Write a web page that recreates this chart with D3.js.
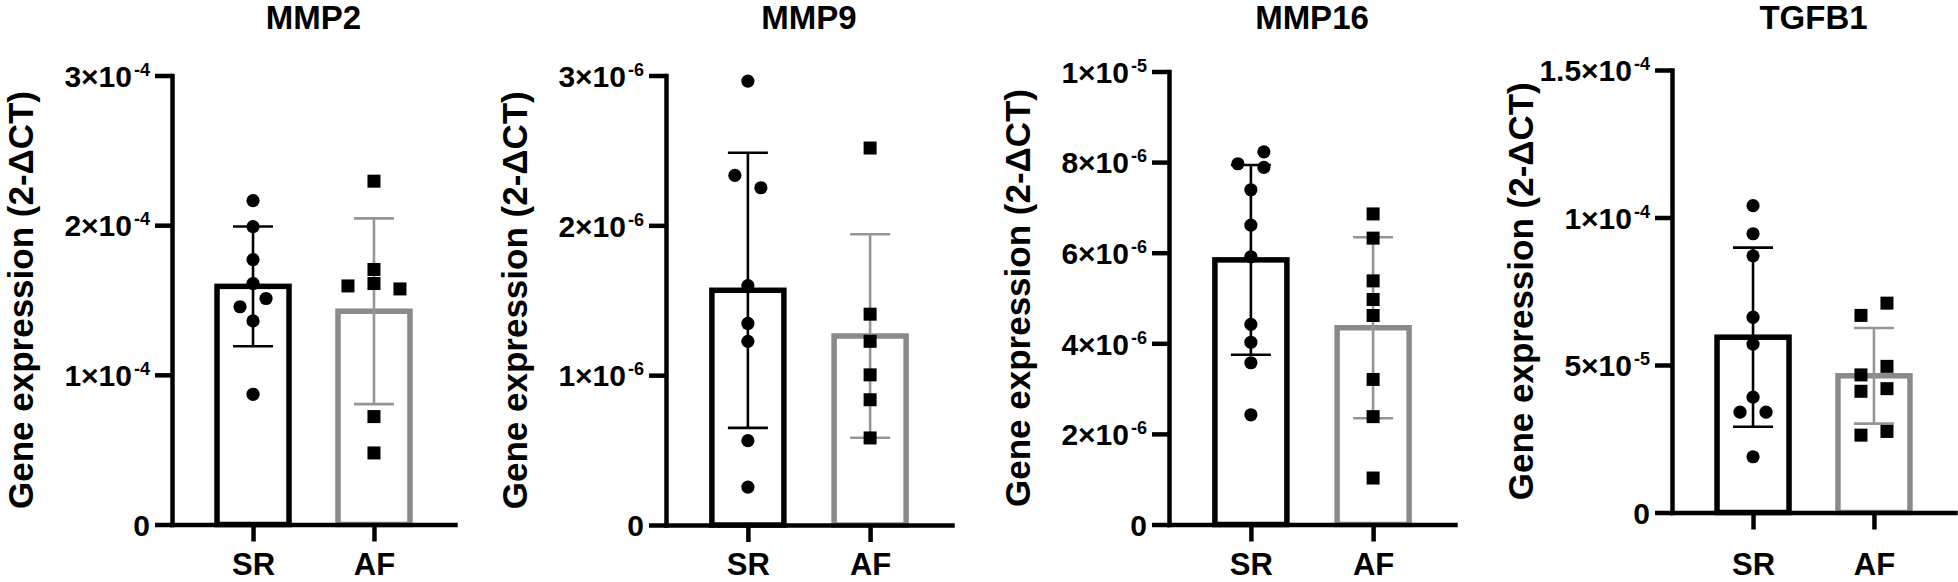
<!DOCTYPE html>
<html>
<head>
<meta charset="utf-8">
<script src="https://cdn.jsdelivr.net/npm/d3@7"></script>
<style>
  html, body { margin: 0; padding: 0; background: #fff; }
  svg { display: block; }
  text { font-family: "Liberation Sans", Arial, Helvetica, sans-serif; font-weight: bold; fill: #000; }
</style>
</head>
<body>
<svg id="chart" width="1958" height="582"></svg>
<script>
// ---------------- data ----------------
const titles = ["MMP2", "MMP9", "MMP16", "TGFB1"];
const groups = ["SR", "AF"];
const yLabel = "Gene expression (2-ΔCT)";

const yMaxes = [3e-4, 3e-6, 1e-5, 1.5e-4];
const ticksMMP2 = [0, 1e-4, 2e-4, 3e-4];
const ticksMMP9 = [0, 1e-6, 2e-6, 3e-6];
const ticksMMP16 = [0, 2e-6, 4e-6, 6e-6, 8e-6, 1e-5];
const ticksTGFB1 = [0, 5e-5, 1e-4, 1.5e-4];

// individual values
const mmp2SR  = [2.164e-4, 1.99e-4, 1.77e-4, 1.61e-4, 1.51e-4, 1.455e-4, 1.36e-4, 0.87e-4];
const mmp2AF  = [2.294e-4, 1.704e-4, 1.610e-4, 1.594e-4, 1.574e-4, 0.721e-4, 0.478e-4];
const mmp9SR  = [2.963e-6, 2.333e-6, 2.251e-6, 1.598e-6, 1.345e-6, 1.226e-6, 0.563e-6, 0.253e-6];
const mmp9AF  = [2.516e-6, 1.407e-6, 1.226e-6, 1.002e-6, 0.836e-6, 0.581e-6];
const mmp16SR = [8.227e-6, 7.964e-6, 7.882e-6, 7.389e-6, 6.609e-6, 5.911e-6, 4.417e-6, 4.023e-6, 3.571e-6, 2.422e-6];
const mmp16AF = [6.856e-6, 6.322e-6, 5.378e-6, 4.967e-6, 4.614e-6, 3.202e-6, 2.381e-6, 1.026e-6];
const tgfb1SR = [10.40e-5, 9.45e-5, 8.70e-5, 6.62e-5, 5.71e-5, 3.91e-5, 3.40e-5, 3.40e-5, 1.89e-5];
const tgfb1AF = [7.097e-5, 6.681e-5, 4.954e-5, 4.664e-5, 4.198e-5, 4.109e-5, 2.748e-5, 2.622e-5];

// horizontal dodge slot of each point (scatter arrangement)
const mmp2SRSlot  = [0, 0, 0, 0, 1, -1, 0, 0];
const mmp2AFSlot  = [0, 0, 0, -2, 2, 0, 0];
const mmp9SRSlot  = [0, -1, 1, 0, 0, 0, 0, 0];
const mmp9AFSlot  = [0, 0, 0, 0, 0, 0];
const mmp16SRSlot = [1, -1, 1, 0, 0, 0, 0, 0, 0, 0];
const mmp16AFSlot = [0, 0, 0, 0, 0, 0, 0, 0];
const tgfb1SRSlot = [0, 0, 0, 0, 0, 0, -1, 1, 0];
const tgfb1AFSlot = [1, -1, 1, -1, 1, -1, 1, -1];

const panelTicks = [ticksMMP2, ticksMMP9, ticksMMP16, ticksTGFB1];
const panelValues = [[mmp2SR, mmp2AF], [mmp9SR, mmp9AF], [mmp16SR, mmp16AF], [tgfb1SR, tgfb1AF]];
const panelSlots = [[mmp2SRSlot, mmp2AFSlot], [mmp9SRSlot, mmp9AFSlot], [mmp16SRSlot, mmp16AFSlot], [tgfb1SRSlot, tgfb1AFSlot]];

// ---------------- layout & style ----------------
const layout = [
  { axisX: 172,  top: 75.5, bottom: 524.5, right: 455 },
  { axisX: 666,  top: 75.5, bottom: 525,   right: 952 },
  { axisX: 1169, top: 71.5, bottom: 524.5, right: 1455 },
  { axisX: 1672, top: 70,   bottom: 512.5, right: 1955 }
];
const barColor = { SR: "#000000", AF: "#8a8a8a" };
const errColor = { SR: "#000000", AF: "#959595" };
const barWidth = 72, barStroke = 5.5, axisStroke = 4.5, errStroke = 2.6, capHalf = 20;
const dotR = 6.6, sqSide = 13, slotStep = 13;

const svg = d3.select("#chart");

function fmtTick(v) {
  if (v === 0) return { m: "0", e: null };
  const e = Math.floor(Math.log10(v) + 1e-9);
  const m = +(v / Math.pow(10, e)).toFixed(2);
  return { m: m + "×10", e: "-" + (-e) };
}

titles.forEach((title, i) => {
  const L = layout[i];
  const g = svg.append("g");

  const y = d3.scaleLinear().domain([0, yMaxes[i]]).range([L.bottom, L.top]);
  const x = d3.scalePoint().domain(groups).range([L.axisX, L.right]).padding(0.67);

  // bars
  groups.forEach((grp, k) => {
    const vals = panelValues[i][k];
    const mean = d3.mean(vals);
    const sd = d3.deviation(vals);
    const cx = x(grp);

    g.append("rect")
      .attr("x", cx - barWidth / 2)
      .attr("y", y(mean))
      .attr("width", barWidth)
      .attr("height", y(0) - y(mean))
      .attr("fill", "#fff")
      .attr("stroke", barColor[grp])
      .attr("stroke-width", barStroke);

    // error bar
    const eg = g.append("g")
      .attr("stroke", errColor[grp])
      .attr("stroke-width", errStroke)
      .attr("fill", "none");
    eg.append("line").attr("x1", cx).attr("x2", cx).attr("y1", y(mean - sd)).attr("y2", y(mean + sd));
    eg.append("line").attr("x1", cx - capHalf).attr("x2", cx + capHalf).attr("y1", y(mean + sd)).attr("y2", y(mean + sd));
    eg.append("line").attr("x1", cx - capHalf).attr("x2", cx + capHalf).attr("y1", y(mean - sd)).attr("y2", y(mean - sd));
  });

  // axes
  const yAxis = d3.axisLeft(y).tickValues(panelTicks[i]).tickSize(17).tickSizeOuter(0).tickPadding(5).tickFormat("");
  const ya = g.append("g").attr("transform", `translate(${L.axisX},0)`).call(yAxis);
  ya.select(".domain").attr("stroke-width", axisStroke).attr("stroke-linecap", "square");
  ya.selectAll(".tick line").attr("stroke-width", axisStroke);
  ya.selectAll(".tick text").each(function(d) {
    const t = d3.select(this);
    const f = fmtTick(d);
    t.text(null)
      .attr("font-size", 30)
      .attr("font-family", null)
      .attr("dy", "0.36em")
      .attr("x", -22);
    t.append("tspan").text(f.m);
    if (f.e) t.append("tspan").attr("font-size", 18).attr("dy", -11).attr("dx", 2).text(f.e);
  });

  const xAxis = d3.axisBottom(x).tickSize(17).tickSizeOuter(0).tickPadding(12);
  const xa = g.append("g").attr("transform", `translate(0,${L.bottom})`).call(xAxis);
  xa.select(".domain").attr("stroke-width", axisStroke).attr("stroke-linecap", "square");
  xa.selectAll(".tick line").attr("stroke-width", axisStroke);
  xa.selectAll(".tick text")
    .attr("font-size", 31)
    .attr("font-family", null)
    .attr("dy", null)
    .attr("y", 575 - L.bottom);

  // points
  groups.forEach((grp, k) => {
    const vals = panelValues[i][k];
    const slots = panelSlots[i][k];
    const pts = vals.map((v, j) => ({ v, s: slots[j] }));
    if (grp === "SR") {
      g.selectAll(null).data(pts).join("circle")
        .attr("cx", d => x(grp) + d.s * slotStep)
        .attr("cy", d => y(d.v))
        .attr("r", dotR)
        .attr("fill", "#000");
    } else {
      g.selectAll(null).data(pts).join("rect")
        .attr("x", d => x(grp) + d.s * slotStep - sqSide / 2)
        .attr("y", d => y(d.v) - sqSide / 2)
        .attr("width", sqSide)
        .attr("height", sqSide)
        .attr("fill", "#000");
    }
  });

  // title
  g.append("text")
    .attr("x", (L.axisX + L.right) / 2)
    .attr("y", 28.5)
    .attr("text-anchor", "middle")
    .attr("font-size", 33)
    .text(title);

  // y label
  g.append("text")
    .attr("transform", `translate(${L.axisX - 139},${(L.top + L.bottom) / 2}) rotate(-90)`)
    .attr("text-anchor", "middle")
    .attr("font-size", 35)
    .text(yLabel);
});
</script>
</body>
</html>
